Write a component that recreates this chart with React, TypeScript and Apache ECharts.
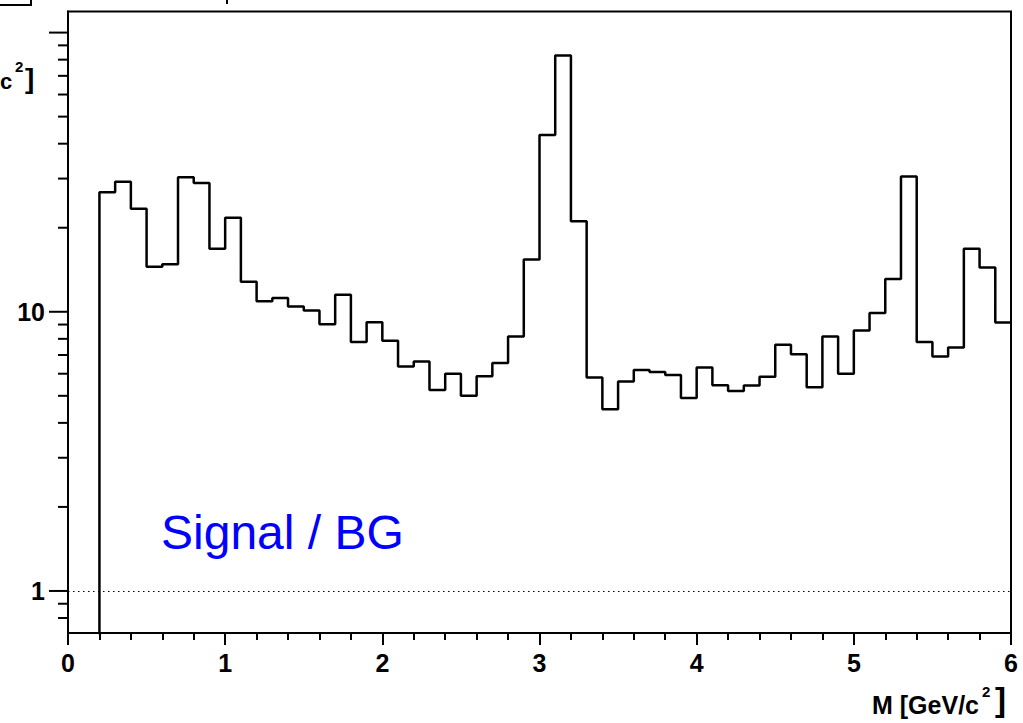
import { useEffect, useRef } from "react";
import * as echarts from "echarts";

// Histogram of the invariant mass ratio, 0.1 GeV/c^2 bins from 0 to 6
const BIN_WIDTH = 0.1;
const COUNTS = [
  0, 0, 26.8, 29.2, 23.4, 14.5, 14.8, 30.3, 28.9, 16.8,
  21.7, 12.8, 10.9, 11.2, 10.45, 10.1, 9.03, 11.5, 7.79, 9.18,
  7.87, 6.37, 6.64, 5.25, 6.0, 5.0, 5.87, 6.55, 8.16, 15.4,
  43.0, 82.7, 21.1, 5.81, 4.48, 5.63, 6.19, 6.08, 5.94, 4.91,
  6.31, 5.46, 5.2, 5.44, 5.85, 7.62, 7.05, 5.37, 8.16, 6.0,
  8.57, 9.89, 13.1, 30.5, 7.79, 6.92, 7.45, 16.8, 14.4, 9.16,
];

const X_MIN = 0;
const X_MAX = 6;
const Y_MIN = 0.707;
const Y_MAX = 119;
// empty bins are drawn below the visible floor so the outline drops off the frame
const EMPTY_FLOOR = 0.1;

const Y_MAJOR = [1, 10, 100];
const Y_MAJOR_LABELS = ["1", "10", ""];
const Y_MINOR = [0.8, 0.9, 2, 3, 4, 5, 6, 7, 8, 9, 20, 30, 40, 50, 60, 70, 80, 90];
const REFERENCE_LEVEL = 1;

const X_TITLE = "M [GeV/c";
const ANNOTATION = "Signal / BG";

const FONT = "'Liberation Sans', Arial, Helvetica, sans-serif";

export default function App() {
  const ref = useRef<HTMLDivElement>(null);

  useEffect(() => {
    if (!ref.current) return;
    const chart = echarts.init(ref.current, null, { renderer: "svg" });

    const stepData: number[][] = COUNTS.map((c, i) => [
      +(i * BIN_WIDTH).toFixed(2),
      Math.max(c, EMPTY_FLOOR),
    ]);
    stepData.push([X_MAX, Math.max(COUNTS[COUNTS.length - 1], EMPTY_FLOOR)]);

    chart.setOption({
      animation: false,
      backgroundColor: "#fff",
      grid: {
        left: 68,
        right: 12,
        top: 11.5,
        bottom: 90,
        show: true,
        borderColor: "#000",
        borderWidth: 2,
        backgroundColor: "transparent",
        containLabel: false,
      },
      xAxis: {
        type: "value",
        min: X_MIN,
        max: X_MAX,
        interval: 1,
        axisLine: { show: true, onZero: false, lineStyle: { color: "#000", width: 2 } },
        axisTick: { show: true, inside: false, length: 12, lineStyle: { color: "#000", width: 2 } },
        minorTick: { show: true, splitNumber: 5, length: 7, lineStyle: { color: "#000", width: 2 } },
        splitLine: { show: false },
        minorSplitLine: { show: false },
        axisLabel: {
          color: "#000",
          fontSize: 25,
          fontWeight: "bold",
          fontFamily: FONT,
          margin: 17,
          showMinLabel: true,
          showMaxLabel: true,
        },
      },
      yAxis: {
        type: "log",
        logBase: 10,
        min: Y_MIN,
        max: Y_MAX,
        axisLine: { show: true, lineStyle: { color: "#000", width: 2 } },
        axisTick: { show: false },
        axisLabel: { show: false },
        splitLine: { show: false },
      },
      series: [
        {
          type: "line",
          step: "end",
          data: stepData,
          symbol: "none",
          clip: true,
          lineStyle: { color: "#000", width: 2.5 },
          markLine: {
            silent: true,
            symbol: "none",
            label: { show: false },
            lineStyle: { type: [1.5, 3.5], color: "#000", width: 1.2 },
            data: [{ yAxis: REFERENCE_LEVEL }],
          },
        },
      ],
    });

    // Log-axis ticks and labels, placed through the axis' own scale
    const axisX = chart.convertToPixel({ xAxisIndex: 0 }, X_MIN) as number;
    const yPix = (v: number) => chart.convertToPixel({ yAxisIndex: 0 }, v) as number;
    const graphics: any[] = [];

    Y_MAJOR.forEach((v, i) => {
      const y = yPix(v);
      graphics.push({
        type: "line",
        shape: { x1: axisX - 19, y1: y, x2: axisX, y2: y },
        style: { stroke: "#000", lineWidth: 2 },
      });
      if (Y_MAJOR_LABELS[i]) {
        graphics.push({
          type: "text",
          x: axisX - 23,
          y,
          style: {
            text: Y_MAJOR_LABELS[i],
            fill: "#000",
            font: `bold 25px ${FONT}`,
            align: "right",
            verticalAlign: "middle",
          },
        });
      }
    });
    Y_MINOR.forEach((v) => {
      const y = yPix(v);
      graphics.push({
        type: "line",
        shape: { x1: axisX - 10, y1: y, x2: axisX, y2: y },
        style: { stroke: "#000", lineWidth: 2 },
      });
    });

    // y-axis title tail
    graphics.push(
      {
        type: "text",
        x: 0,
        y: 81,
        style: { text: "c", fill: "#000", font: `bold 22px ${FONT}`, align: "left", verticalAlign: "middle" },
      },
      {
        type: "text",
        x: 15,
        y: 66,
        style: { text: "2", fill: "#000", font: `bold 15px ${FONT}`, align: "left", verticalAlign: "middle" },
      },
      {
        type: "text",
        x: 25,
        y: 78.5,
        style: { text: "]", fill: "#000", font: `bold 28px ${FONT}`, align: "left", verticalAlign: "middle" },
      }
    );

    // x-axis title
    graphics.push(
      {
        type: "text",
        x: 979,
        y: 705,
        style: { text: X_TITLE, fill: "#000", font: `bold 25px ${FONT}`, align: "right", verticalAlign: "middle" },
      },
      {
        type: "text",
        x: 982,
        y: 691,
        style: { text: "2", fill: "#000", font: `bold 15px ${FONT}`, align: "left", verticalAlign: "middle" },
      },
      {
        type: "text",
        x: 995,
        y: 699,
        style: { text: "]", fill: "#000", font: `bold 33px ${FONT}`, align: "left", verticalAlign: "middle" },
      }
    );

    // annotation
    graphics.push({
      type: "text",
      x: 161,
      y: 532,
      style: { text: ANNOTATION, fill: "#0000ff", font: `48px ${FONT}`, align: "left", verticalAlign: "middle" },
    });

    // pieces of the legend box and caption along the top edge
    graphics.push(
      {
        type: "polyline",
        shape: { points: [[0, 5], [31, 5], [31, 0]] },
        style: { stroke: "#000", lineWidth: 2, fill: "none" },
      },
      {
        type: "line",
        shape: { x1: 227, y1: 0, x2: 227, y2: 4 },
        style: { stroke: "#000", lineWidth: 2 },
      }
    );

    chart.setOption({ graphic: graphics });

    return () => chart.dispose();
  }, []);

  return (
    <div
      ref={ref}
      style={{ position: "absolute", left: 0, top: 0, width: 1023, height: 723 }}
    />
  );
}
